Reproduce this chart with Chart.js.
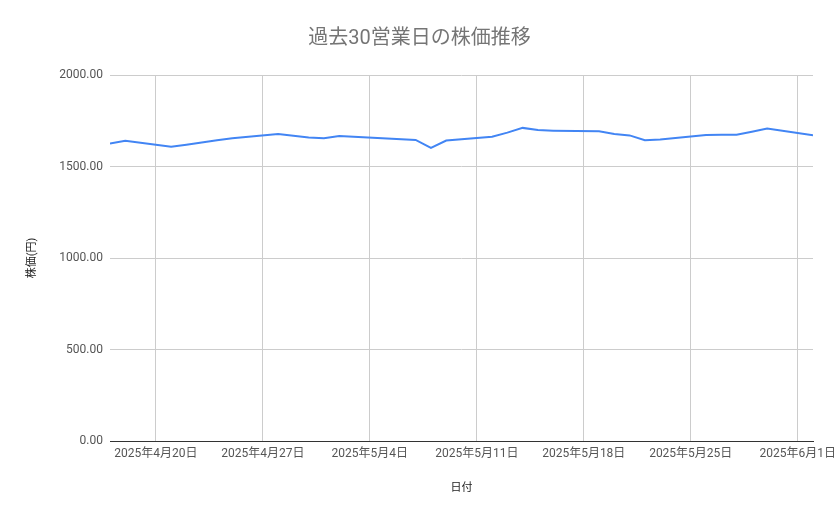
<!DOCTYPE html>
<html>
<head>
<meta charset="utf-8">
<script src="https://cdn.jsdelivr.net/npm/chart.js@4/dist/chart.umd.min.js"></script>
<style>
  html, body { margin: 0; padding: 0; background: #fff; }
  #wrap { width: 839px; height: 519px; }
</style>
</head>
<body>
<div id="wrap"><canvas id="priceChart"></canvas></div>
<script>
// trading days (JP market, Golden Week skipped)
const dates = [
  '2025-04-17', '2025-04-18', '2025-04-21', '2025-04-22', '2025-04-23', '2025-04-24', '2025-04-25',
  '2025-04-28', '2025-04-30', '2025-05-01', '2025-05-02', '2025-05-07', '2025-05-08', '2025-05-09',
  '2025-05-12', '2025-05-13', '2025-05-14', '2025-05-15', '2025-05-16', '2025-05-19', '2025-05-20',
  '2025-05-21', '2025-05-22', '2025-05-23', '2025-05-26', '2025-05-27', '2025-05-28', '2025-05-29',
  '2025-05-30', '2025-06-02'
];
const prices = [
  1625, 1640, 1608, 1619, 1631, 1644, 1655,
  1678, 1658, 1655, 1666, 1645, 1602, 1642,
  1663, 1685, 1711, 1699, 1696, 1692, 1678,
  1670, 1644, 1647, 1672, 1673, 1673, 1690,
  1708, 1671
];
const tickDates = ['2025-04-20', '2025-04-27', '2025-05-04', '2025-05-11', '2025-05-18', '2025-05-25', '2025-06-01'];
const tickLabels = ['2025年4月20日', '2025年4月27日', '2025年5月4日', '2025年5月11日', '2025年5月18日', '2025年5月25日', '2025年6月1日'];
const axisStart = '2025-04-17';
const axisEnd = '2025-06-02';

const base = Date.UTC(2025, 3, 20);
function dayNum(s) {
  const p = s.split('-').map(Number);
  return (Date.UTC(p[0], p[1] - 1, p[2]) - base) / 86400000;
}

const points = dates.map((d, i) => ({ x: dayNum(d), y: prices[i] }));
const tickDays = tickDates.map(dayNum);

const fontFam = "Roboto, 'Noto Sans CJK JP', sans-serif";

new Chart(document.getElementById('priceChart'), {
  type: 'line',
  data: {
    datasets: [{
      label: '株価',
      data: points,
      borderColor: '#4285F4',
      borderWidth: 2,
      pointRadius: 0,
      fill: false,
      tension: 0
    }]
  },
  options: {
    responsive: true,
    maintainAspectRatio: false,
    animation: false,
    devicePixelRatio: 1,
    layout: { padding: { left: 0, right: 0, top: 0, bottom: 0 } },
    plugins: {
      legend: { display: false },
      tooltip: { enabled: false },
      title: {
        display: true,
        text: '過去30営業日の株価推移',
        color: '#757575',
        font: { family: fontFam, size: 20, weight: 'normal' },
        padding: { top: 27, bottom: 24 }
      }
    },
    scales: {
      x: {
        type: 'linear',
        min: dayNum(axisStart),
        max: dayNum(axisEnd),
        afterBuildTicks: (scale) => { scale.ticks = tickDays.map(v => ({ value: v })); },
        afterFit: (scale) => {
          scale.height = 78;
          // keep plot right edge at 813 even though last label overflows
          scale.paddingRight = 26;
        },
        ticks: {
          autoSkip: false,
          maxRotation: 0,
          padding: 6,
          color: '#555',
          font: { family: fontFam, size: 12 },
          callback: (v) => tickLabels[tickDays.indexOf(v)]
        },
        grid: { color: '#cccccc', drawTicks: false },
        border: { display: true, color: '#333', width: 1 },
        title: {
          display: true,
          text: '日付',
          color: '#222',
          font: { family: fontFam, size: 11 },
          padding: { top: 0, bottom: 24 }
        }
      },
      y: {
        min: 0,
        max: 2000,
        afterFit: (scale) => { scale.width = 110; },
        ticks: {
          stepSize: 500,
          padding: 7,
          color: '#555',
          font: { family: fontFam, size: 12 },
          callback: (v) => v.toFixed(2)
        },
        grid: { color: '#cccccc', drawTicks: false },
        border: { display: false },
        title: {
          display: true,
          text: '株価(円)',
          color: '#222',
          font: { family: fontFam, size: 11 },
          padding: { top: 26, bottom: 0 }
        }
      }
    }
  }
});
</script>
</body>
</html>
